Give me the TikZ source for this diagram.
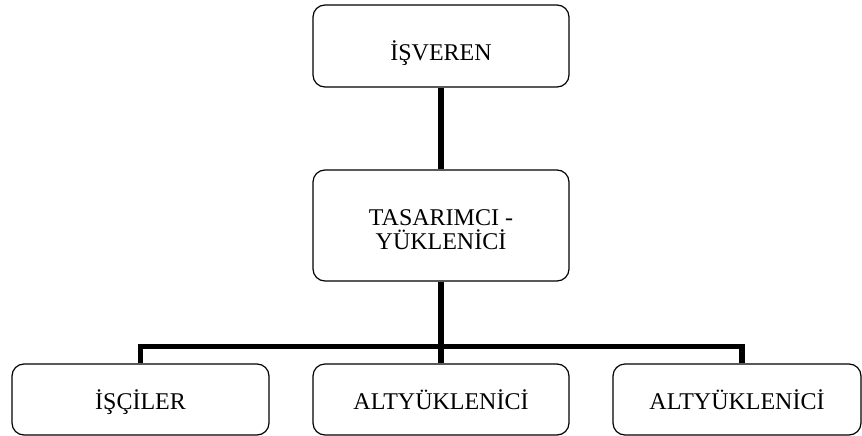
\documentclass[tikz,border=0pt]{standalone}
\usepackage{fontspec}
\setmainfont{Liberation Serif}
\begin{document}
\begin{tikzpicture}[x=1pt,y=-1pt,
  box/.style={draw, line width=1.2pt, rounded corners=12pt, inner sep=0pt,
    font=\fontsize{24}{24.5}\selectfont, align=center},
  link/.style={line width=5.5pt, line join=miter}]
\useasboundingbox (0,0) rectangle (862,436);
% top level
\node[box, minimum width=256pt, minimum height=82pt, text height=30pt, text depth=0pt]
  (isveren) at (441,46) {İŞVEREN};
% second level
\node[box, minimum width=256pt, minimum height=111pt]
  (tasarimci) at (441,225.5) {\rule{0pt}{24pt}TASARIMCI -\\YÜKLENİCİ};
% third level
\node[box, minimum width=257pt, minimum height=71pt, text height=19pt, text depth=0pt]
  (isciler) at (140.5,399.5) {İŞÇİLER};
\node[box, minimum width=256pt, minimum height=71pt, text height=19pt, text depth=0pt]
  (alt1) at (441,399.5) {ALTYÜKLENİCİ};
\node[box, minimum width=248pt, minimum height=71pt, text height=19pt, text depth=0pt]
  (alt2) at (737,399.5) {ALTYÜKLENİCİ};
\coordinate (bar) at (441,346.5);
% connectors
\draw[link] (isveren.south) -- (tasarimci.north);
\draw[link] (tasarimci.south) -- (alt1.north);
\draw[link] (isciler.north) |- (bar) -| ([xshift=5pt]alt2.north);
\end{tikzpicture}
\end{document}
